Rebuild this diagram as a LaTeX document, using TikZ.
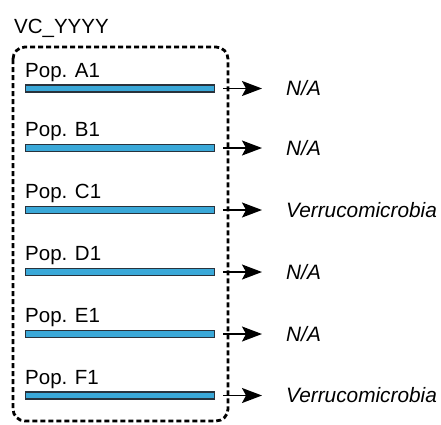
\documentclass[tikz,border=0pt]{standalone}
\usepackage{fontspec}
\setmainfont{Liberation Sans}
\usetikzlibrary{arrows.meta}
\definecolor{barblue}{RGB}{58,168,216}
\definecolor{bardark}{RGB}{40,50,60}
\tikzset{
  popbar/.style={draw=bardark, line width=1.2pt, fill=barblue, minimum width=189pt, minimum height=7pt, inner sep=0pt, anchor=west},
  poplabel/.style={font=\fontsize{20.5}{22}\selectfont, inner sep=0pt, anchor=base west},
  taxon/.style={font=\fontsize{20.8}{22}\selectfont\itshape, inner sep=0pt, anchor=west},
  outarrow/.style={line width=1.5pt, -{Stealth[length=20pt, width=15pt, inset=4pt]}},
  groupbox/.style={line width=2.8pt, dash pattern=on 5pt off 3pt, rounded corners=12pt}
}
\begin{document}
\begin{tikzpicture}[x=1pt,y=-1pt]
\useasboundingbox (0,0) rectangle (441,424);
\node[poplabel] (title) at (14,33) {VC\_YYYY};
\draw[groupbox] (13,47) rectangle (228,421);
\foreach \n/\y/\t in {A/88.5/N\slash A, B/148/N\slash A, C/210/Verrucomicrobia, D/272/N\slash A, E/334/N\slash A, F/395.5/Verrucomicrobia}{
  \node[poplabel] (lab\n) at (25,\y-11.5) {Pop. \n1};
  \node[popbar] (bar\n) at (25,\y) {};
  \node[taxon] (tax\n) at (286,\y) {\t};
  \coordinate (tip\n) at (262,\y);
  \draw[outarrow] ([xshift=8pt]bar\n.east) -- (tip\n);
}
\end{tikzpicture}
\end{document}
